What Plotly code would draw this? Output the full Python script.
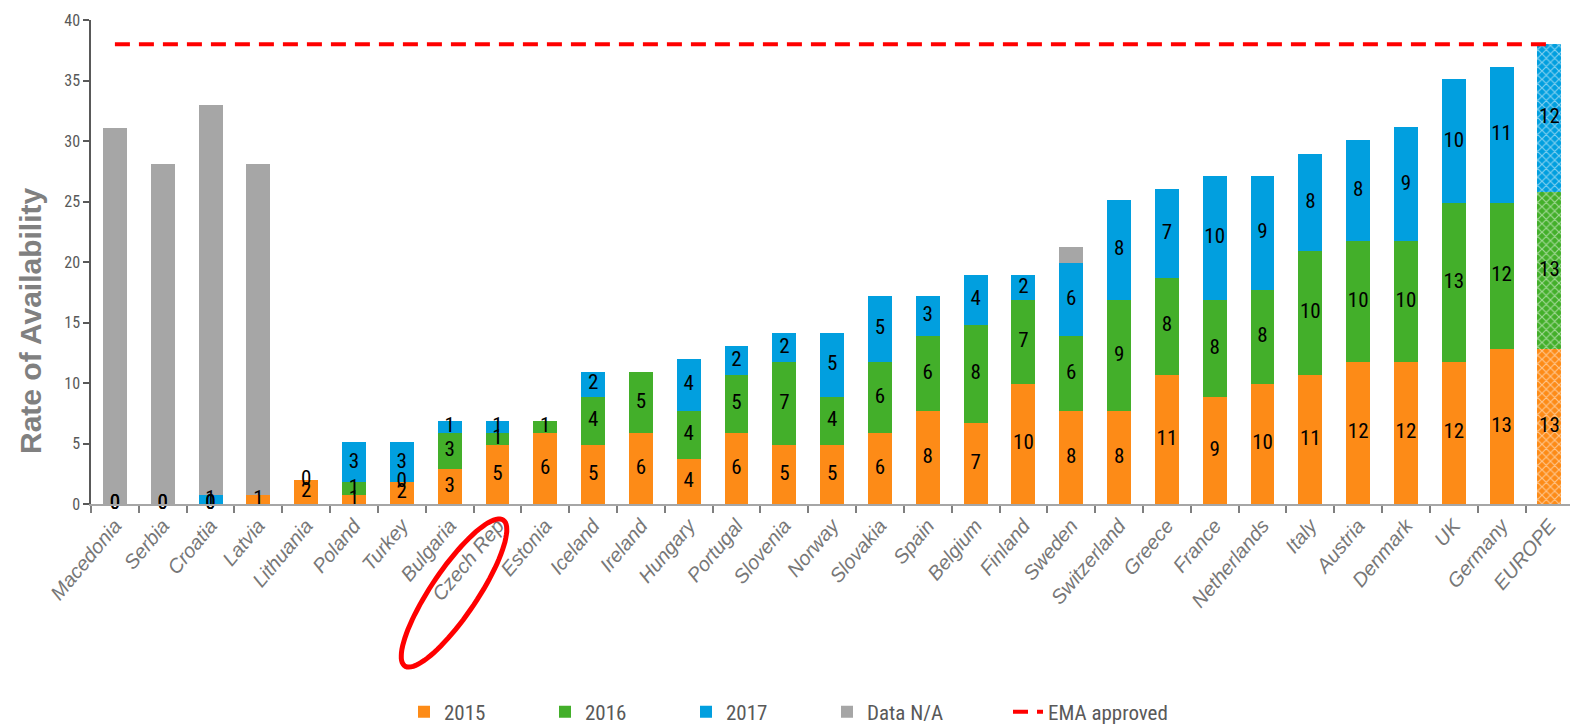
import numpy as np
import plotly.graph_objects as go

countries = ["Macedonia", "Serbia", "Croatia", "Latvia", "Lithuania", "Poland", "Turkey",
             "Bulgaria", "Czech Rep", "Estonia", "Iceland", "Ireland", "Hungary", "Portugal",
             "Slovenia", "Norway", "Slovakia", "Spain", "Belgium", "Finland", "Sweden",
             "Switzerland", "Greece", "France", "Netherlands", "Italy", "Austria", "Denmark",
             "UK", "Germany", "EUROPE"]

# bar heights (rate of availability)
v2015 = [0, 0, 0, 0.75, 2.0, 0.75, 1.8, 2.9, 4.85, 5.85, 4.85, 5.85, 3.75, 5.85, 4.85, 4.85,
         5.85, 7.7, 6.7, 9.9, 7.7, 7.7, 10.7, 8.85, 9.9, 10.7, 11.75, 11.75, 11.75, 12.8, 12.8]
v2016 = [0, 0, 0, 0, 0, 1.05, 0, 3.0, 1.05, 1.0, 4.0, 5.1, 3.95, 4.85, 6.9, 4.0,
         5.9, 6.2, 8.1, 6.95, 6.15, 9.15, 8.0, 8.0, 7.8, 10.25, 9.95, 9.95, 13.1, 12.05, 13.0]
v2017 = [0, 0, 0.75, 0, 0, 3.3, 3.3, 1.0, 1.0, 0, 2.1, 0, 4.3, 2.35, 2.35, 5.25,
         5.4, 3.25, 4.15, 2.1, 6.05, 8.25, 7.35, 10.25, 9.4, 7.95, 8.4, 9.45, 10.25, 11.3, 12.25]
vNA = [31.1, 28.1, 32.25, 27.35, 0, 0, 0, 0, 0, 0, 0, 0, 0, 0, 0, 0,
       0, 0, 0, 0, 1.3, 0, 0, 0, 0, 0, 0, 0, 0, 0, 0]
ema_approved = 38

# data labels (counts)
lab2015 = ["0", "0", "0", "1", "2", "1", "2", "3", "5", "6", "5", "6", "4", "6", "5", "5",
           "6", "8", "7", "10", "8", "8", "11", "9", "10", "11", "12", "12", "12", "13", "13"]
lab2016 = ["0", "0", "0", "", "0", "1", "0", "3", "1", "1", "4", "5", "4", "5", "7", "4",
           "6", "6", "8", "7", "6", "9", "8", "8", "8", "10", "10", "10", "13", "12", "13"]
lab2017 = ["", "", "1", "", "", "3", "3", "1", "1", "", "2", "", "4", "2", "2", "5",
           "5", "3", "4", "2", "6", "8", "7", "10", "9", "8", "8", "9", "10", "11", "12"]

C15, C16, C17, CNA = "#FD8B17", "#43AF2A", "#019FDF", "#A6A6A6"
NARROW = "Liberation Sans Narrow, Arial Narrow, Roboto Condensed, Open Sans, sans-serif"
ARIAL = "Liberation Sans, Arial, sans-serif"
GRAY_TXT = "#595959"

W, H = 1570, 726
ML, MR, MT, MB = 91, 0, 20, 222
pw, ph = W - ML - MR, H - MT - MB

n = len(countries)
pat = [""] * (n - 1) + ["x"]

fig = go.Figure()
for name, vals, col, lw in [("2015", v2015, C15, 96), ("2016", v2016, C16, 96),
                            ("2017", v2017, C17, 96), ("Data N/A", vNA, CNA, 136)]:
    fig.add_trace(go.Bar(
        x=countries, y=vals, name=name, legendwidth=lw,
        marker=dict(color=col, line=dict(width=0),
                    pattern=dict(shape=pat, fgcolor="white", size=6, solidity=0.35)),
    ))

fig.add_trace(go.Scatter(
    x=countries, y=[ema_approved] * n, mode="lines", name="EMA approved", legendwidth=160,
    line=dict(color="#FF0000", width=4, dash="15px,9px"),
))

# data labels centred in each segment
a15, a16, a17 = np.array(v2015), np.array(v2016), np.array(v2017)
for labs, base, h in [(lab2015, 0 * a15, a15), (lab2016, a15, a16), (lab2017, a15 + a16, a17)]:
    fig.add_trace(go.Scatter(
        x=countries, y=base + h / 2, mode="text", text=labs, showlegend=False,
        textfont=dict(family=NARROW, size=21, color="black"), hoverinfo="skip",
        textposition="middle center", cliponaxis=False,
    ))

# red ellipse around "Czech Rep" label (pixel geometry -> paper coords)
cx, cy, a, b, ang = 454, 593, 88, 23, np.deg2rad(-56)
t = np.linspace(0, 2 * np.pi, 90)
px = cx + a * np.cos(t) * np.cos(ang) - b * np.sin(t) * np.sin(ang)
py = cy + a * np.cos(t) * np.sin(ang) + b * np.sin(t) * np.cos(ang)
xs = (px - ML) / pw
ys = (H - MB - py) / ph
path = "M " + " L ".join(f"{x:.4f},{y:.4f}" for x, y in zip(xs, ys)) + " Z"
fig.add_shape(type="path", path=path, xref="paper", yref="paper",
              line=dict(color="#FF0000", width=5))

fig.add_annotation(text="<b>Rate of Availability</b>", textangle=-90, xref="paper", yref="paper",
                   x=(30 - ML) / pw, y=(H - MB - 321) / ph, xanchor="center", yanchor="middle",
                   showarrow=False,
                   font=dict(family=ARIAL, size=30, color="#808080"))

fig.update_layout(
    width=W, height=H, margin=dict(l=ML, r=MR, t=MT, b=MB, autoexpand=False),
    barmode="stack", bargap=0.5,
    plot_bgcolor="white", paper_bgcolor="white",
    showlegend=True,
    legend=dict(orientation="h", x=(404 - ML) / pw, xanchor="left", y=(H - MB - 712) / ph,
                yanchor="middle",
                font=dict(family=NARROW, size=21, color=GRAY_TXT), traceorder="normal"),
    xaxis=dict(type="category", range=[-0.5, 30.43], tickangle=-50, tickson="boundaries",
               ticks="outside", ticklen=7, tickwidth=2, tickcolor="#7F7F7F", automargin=False,
               showline=True, linecolor="#A6A6A6", linewidth=2, showgrid=False,
               tickfont=dict(family=ARIAL, size=20, color="#777777", style="italic")),
    yaxis=dict(range=[0, 40], dtick=5, ticks="outside", ticklen=6, tickwidth=2, automargin=False,
               tickcolor="#595959", showline=True, linecolor="#595959", linewidth=1.5,
               showgrid=False, zeroline=False,
               tickfont=dict(family=NARROW, size=16, color=GRAY_TXT)),
)

fig.write_html("out.html", config={"displayModeBar": False},
               post_script="document.body.style.margin='0';document.body.style.overflow='hidden';")
